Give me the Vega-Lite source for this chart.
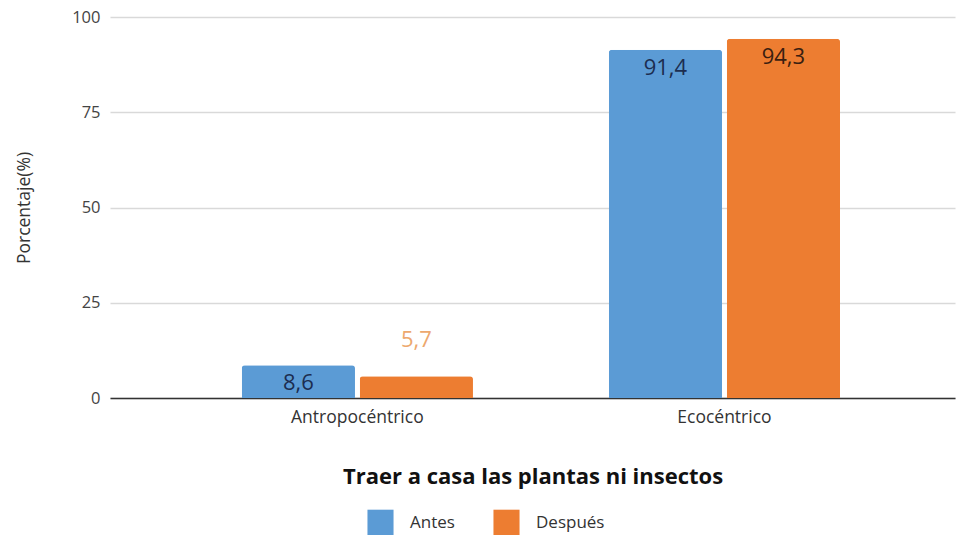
{
  "$schema": "https://vega.github.io/schema/vega-lite/v6.json",
  "width": 845,
  "height": 381,
  "autosize": {"type": "none"},
  "padding": {"left": 110, "top": 17, "right": 6, "bottom": 137},
  "background": "white",
  "config": {
    "font": "Open Sans",
    "view": {"stroke": null},
    "locale": {"number": {"decimal": ",", "thousands": ".", "grouping": [3], "currency": ["", " €"]}}
  },
  "data": {
    "values": [
      {"categoria": "Antropocéntrico", "serie": "Antes", "valor": 8.6},
      {"categoria": "Antropocéntrico", "serie": "Después", "valor": 5.7},
      {"categoria": "Ecocéntrico", "serie": "Antes", "valor": 91.4},
      {"categoria": "Ecocéntrico", "serie": "Después", "valor": 94.3}
    ]
  },
  "encoding": {
    "x": {
      "field": "categoria",
      "type": "nominal",
      "sort": ["Antropocéntrico", "Ecocéntrico"],
      "scale": {"paddingInner": 0.37, "paddingOuter": 0.336, "align": 0.534},
      "axis": {
        "labelAngle": 0,
        "labelFontSize": 17.5,
        "labelColor": "#333333",
        "labelPadding": 10,
        "ticks": false,
        "domainColor": "#333333",
        "domainWidth": 1.5,
        "title": "Traer a casa las plantas ni insectos",
        "titleFontSize": 22,
        "titleFontWeight": "bold",
        "titleColor": "#111111",
        "titlePadding": 41
      }
    },
    "xOffset": {
      "field": "serie",
      "type": "nominal",
      "sort": ["Antes", "Después"],
      "scale": {"paddingInner": 0.04}
    },
    "y": {
      "field": "valor",
      "type": "quantitative",
      "scale": {"domain": [0, 100], "nice": false},
      "axis": {
        "values": [0, 25, 50, 75, 100],
        "domain": false,
        "ticks": false,
        "gridColor": "#d9d9d9",
        "gridWidth": 1.5,
        "labelFontSize": 16.5,
        "labelColor": "#444444",
        "labelPadding": 10,
        "title": "Porcentaje(%)",
        "titleFontSize": 17.5,
        "titleFontWeight": "normal",
        "titleColor": "#333333",
        "titlePadding": 38
      }
    }
  },
  "layer": [
    {
      "mark": {"type": "bar", "cornerRadiusTopLeft": 3, "cornerRadiusTopRight": 3},
      "encoding": {
        "color": {
          "field": "serie",
          "type": "nominal",
          "sort": ["Antes", "Después"],
          "scale": {"domain": ["Antes", "Después"], "range": ["#5b9bd5", "#ed7d31"]},
          "legend": {
            "orient": "none",
            "legendX": 257,
            "legendY": 492,
            "direction": "horizontal",
            "title": null,
            "symbolType": "square",
            "symbolSize": 680,
            "symbolStrokeWidth": 0,
            "symbolOpacity": 1,
            "labelFontSize": 17,
            "labelColor": "#333333",
            "labelOffset": 16,
            "columnPadding": 38
          }
        }
      }
    },
    {
      "transform": [{"filter": "datum.valor >= 8"}],
      "mark": {"type": "text", "baseline": "top", "dy": 8, "fontSize": 22},
      "encoding": {
        "text": {"field": "valor", "type": "quantitative", "format": ".1f"},
        "color": {
          "condition": {"test": "datum.serie == 'Antes'", "value": "#1c2d50"},
          "value": "#3a1e10"
        }
      }
    },
    {
      "transform": [{"filter": "datum.valor < 8"}],
      "mark": {"type": "text", "baseline": "alphabetic", "dy": -29, "fontSize": 22, "color": "#eda86e"},
      "encoding": {
        "text": {"field": "valor", "type": "quantitative", "format": ".1f"}
      }
    }
  ]
}
